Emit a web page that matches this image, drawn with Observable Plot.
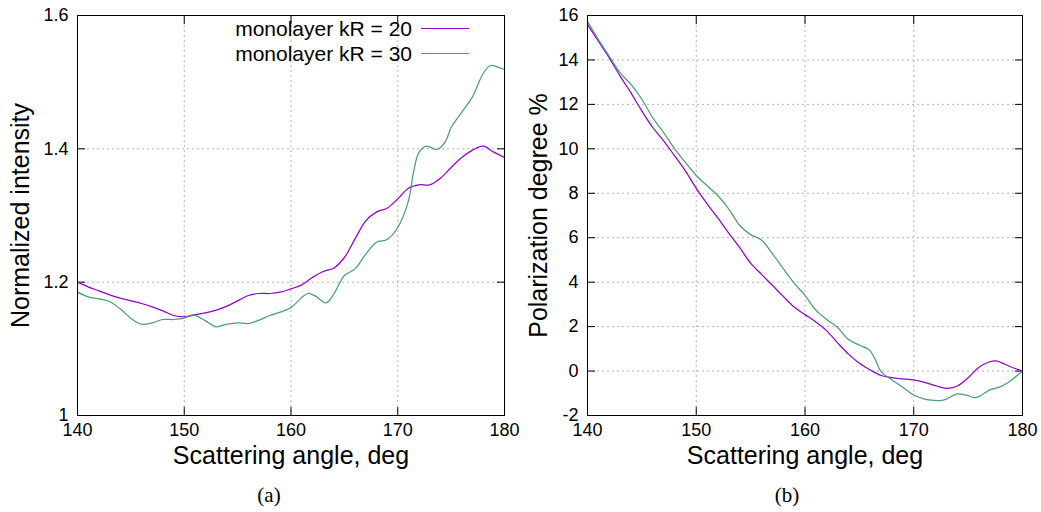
<!DOCTYPE html>
<html>
<head>
<meta charset="utf-8">
<script src="https://cdn.jsdelivr.net/npm/d3@7"></script>
<script src="https://cdn.jsdelivr.net/npm/@observablehq/plot@0.6"></script>
<style>
  html, body { margin: 0; padding: 0; background: #fff; }
  #root { position: relative; width: 1041px; height: 512px; background: #fff; overflow: hidden; font-family: "Liberation Sans", Arial, sans-serif; }
  .panel { position: absolute; top: 0; }
  .leg { position: absolute; font-size: 21px; line-height: 21px; text-align: right; white-space: nowrap; color: #000; }
  .legline { position: absolute; height: 0; border-top: 1.6px solid; }
  .cap { position: absolute; width: 100px; text-align: center; font-family: "Liberation Serif", "DejaVu Serif", serif; font-size: 21px; line-height: 21px; color: #000; }
</style>
</head>
<body>
<div id="root"></div>
<script>
// ---------- data ----------
const seriesNames = ["monolayer kR = 20", "monolayer kR = 30"];
const seriesColors = ["#9400d3", "#4a9e78"];

const xTicks = [140, 150, 160, 170, 180];
const intensityTicks = [1, 1.2, 1.4, 1.6];
const polarTicks = [-2, 0, 2, 4, 6, 8, 10, 12, 14, 16];

// (a) normalized intensity
const intAngle20 = [140,141,142,143,144,145,146,147,148,149,150,151,152,153,154,155,156,157,158,159,160,161,162,163,164,165,166,167,168,169,170,171,172,173,174,175,176,177,178,179,180];
const intValue20 = [1.200,1.193,1.187,1.181,1.176,1.172,1.168,1.163,1.157,1.150,1.148,1.151,1.154,1.158,1.164,1.172,1.180,1.183,1.183,1.185,1.190,1.196,1.207,1.216,1.221,1.237,1.265,1.292,1.305,1.311,1.325,1.341,1.346,1.346,1.356,1.372,1.387,1.398,1.404,1.395,1.387];

const intAngle30 = [140,141,142,143,144,145,146,147,148,149,150,150.8,152,153,154,155,156,157,158,159,160,161,161.6,162.3,163.3,164,164.5,165,166,167,168,169,170,171,171.5,172,172.7,173.7,174.5,175,176,177,178,178.7,179.3,180];
const intValue30 = [1.185,1.178,1.175,1.171,1.160,1.146,1.137,1.139,1.144,1.144,1.146,1.151,1.142,1.133,1.137,1.139,1.138,1.143,1.150,1.155,1.162,1.177,1.183,1.179,1.169,1.182,1.197,1.210,1.220,1.242,1.260,1.264,1.282,1.322,1.367,1.395,1.404,1.399,1.412,1.432,1.455,1.478,1.513,1.525,1.523,1.519];

// (b) polarization degree
const polAngle20 = [140,141,142,143,144,145,146,147,148,149,150,151,152,153,154,155,156,157,158,159,160,161,162,163,164,165,166,167,168,169,170,171,172,173,174,175,176,177,177.5,178,179,180];
const polValue20 = [15.6,14.84,14.09,13.27,12.52,11.70,10.96,10.36,9.69,9.01,8.22,7.52,6.88,6.20,5.55,4.86,4.35,3.86,3.36,2.88,2.54,2.21,1.81,1.27,0.76,0.35,0.05,-0.20,-0.30,-0.35,-0.40,-0.51,-0.66,-0.78,-0.67,-0.30,0.17,0.42,0.46,0.39,0.17,0.0];

const polAngle30 = [140,141,142,143,144,145,146,147,148,149,150,151,152,153,154,155,156,157,158,159,160,161,162,163,164,165,165.7,166,166.5,167,168,169,170,171,172,172.5,173,174,175,175.6,176,177,178,179,180];
const polValue30 = [15.74,14.92,14.17,13.42,12.90,12.23,11.40,10.73,10.01,9.39,8.80,8.34,7.89,7.29,6.55,6.14,5.90,5.28,4.61,3.96,3.41,2.74,2.32,1.96,1.42,1.17,1.02,0.91,0.48,-0.03,-0.40,-0.73,-1.08,-1.26,-1.32,-1.33,-1.26,-1.03,-1.11,-1.20,-1.15,-0.85,-0.70,-0.40,0.0];

const xTitle = "Scattering angle, deg";
const yTitleA = "Normalized intensity";
const yTitleB = "Polarization degree %";
const captions = ["(a)", "(b)"];

// ---------- build ----------
function rows(angles, values) { return angles.map((a, i) => ({a, v: values[i]})); }

function panel({width, marginLeft, marginRight, yDomain, yTicks, yTitle, titleDx, series}) {
  const gridStyle = {stroke: "#b4b4b4", strokeOpacity: 1, strokeWidth: 1, strokeDasharray: "2,3"};
  return Plot.plot({
    width, height: 470,
    marginLeft, marginRight, marginTop: 15, marginBottom: 55,
    style: {fontFamily: "Liberation Sans, Arial, sans-serif", fontSize: "18px", background: "white", color: "#000", overflow: "visible"},
    x: {domain: [140, 180]},
    y: {domain: yDomain},
    marks: [
      Plot.gridX(xTicks, gridStyle),
      Plot.gridY(yTicks, gridStyle),
      Plot.axisX(xTicks, {anchor: "bottom", tickSize: 0, tickPadding: 8, fontSize: 18, tickFormat: d => String(d), label: null}),
      Plot.axisX(xTicks, {anchor: "bottom", tickSize: -8, fill: "none", stroke: "#000", label: null}),
      Plot.axisX(xTicks, {anchor: "top", tickSize: -8, fill: "none", stroke: "#000", label: null}),
      Plot.axisY(yTicks, {anchor: "left", tickSize: 0, tickPadding: 9, fontSize: 18, tickFormat: d => String(d), label: null}),
      Plot.axisY(yTicks, {anchor: "left", tickSize: -8, fill: "none", stroke: "#000", label: null}),
      Plot.axisY(yTicks, {anchor: "right", tickSize: -8, fill: "none", stroke: "#000", label: null}),
      ...series.map((s, i) => Plot.line(s, {x: "a", y: "v", stroke: seriesColors[i], strokeWidth: 1.25, curve: "catmull-rom"})),
      Plot.frame({stroke: "#000", strokeWidth: 1}),
      Plot.text([xTitle], {frameAnchor: "bottom", lineAnchor: "middle", textAnchor: "middle", dy: 40, fontSize: 25, fill: "#000"}),
      Plot.text([yTitle], {frameAnchor: "left", lineAnchor: "middle", textAnchor: "middle", rotate: -90, dx: titleDx, fontSize: 25, fill: "#000"})
    ]
  });
}

const root = document.getElementById("root");

const a = panel({
  width: 520, marginLeft: 77, marginRight: 16,
  yDomain: [1, 1.6], yTicks: intensityTicks, yTitle: yTitleA, titleDx: -57,
  series: [rows(intAngle20, intValue20), rows(intAngle30, intValue30)]
});
a.classList.add("panel"); a.style.left = "0px";
root.appendChild(a);

const b = panel({
  width: 521, marginLeft: 67, marginRight: 19,
  yDomain: [-2, 16], yTicks: polarTicks, yTitle: yTitleB, titleDx: -49,
  series: [rows(polAngle20, polValue20), rows(polAngle30, polValue30)]
});
b.classList.add("panel"); b.style.left = "520px";
root.appendChild(b);

// legend (inside panel a, top right)
seriesNames.forEach((name, i) => {
  const t = document.createElement("div");
  t.className = "leg";
  t.textContent = name;
  t.style.left = "162px"; t.style.width = "250px";
  t.style.top = (18 + i * 25) + "px";
  root.appendChild(t);
  const l = document.createElement("div");
  l.className = "legline";
  l.style.left = "421px"; l.style.width = "48px";
  l.style.top = (28 + i * 25) + "px";
  l.style.borderTopColor = seriesColors[i];
  root.appendChild(l);
});

// captions
captions.forEach((c, i) => {
  const d = document.createElement("div");
  d.className = "cap";
  d.textContent = c;
  d.style.left = (i === 0 ? 219 : 737) + "px";
  d.style.top = "485px";
  root.appendChild(d);
});
</script>
</body>
</html>
